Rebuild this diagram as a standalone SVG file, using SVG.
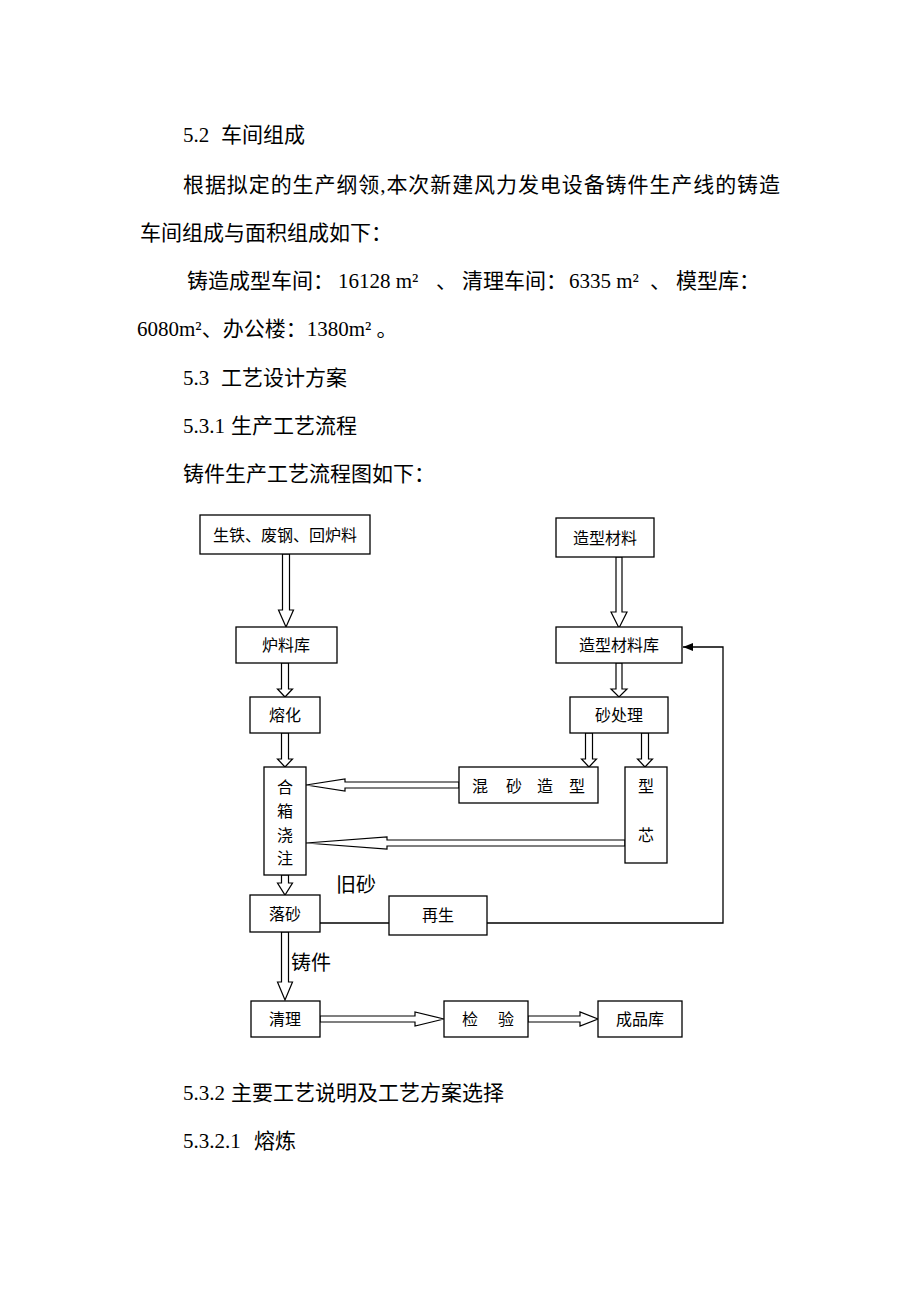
<svg xmlns="http://www.w3.org/2000/svg" width="920" height="1302" viewBox="0 0 920 1302">
<style>
.body{font-family:"Liberation Serif","Noto Sans CJK SC",serif;font-size:21px;fill:#000}
.box{fill:#fff;stroke:#000;stroke-width:1.3}
.lbl{font-family:"Liberation Serif","Noto Sans CJK SC",serif;font-size:16px;fill:#000;text-anchor:middle;dominant-baseline:central}
.side{font-family:"Noto Sans CJK SC",sans-serif;font-size:20px;fill:#000}
.arr{fill:#fff;stroke:#000;stroke-width:1.2;stroke-linejoin:miter}
.ln{fill:none;stroke:#000;stroke-width:1.3}
</style>
<defs>
<marker id="tri" markerWidth="10" markerHeight="8" refX="10" refY="4" orient="auto" markerUnits="userSpaceOnUse">
<path d="M0,0 L10,4 L0,8 Z" fill="#000"/>
</marker>
</defs>
<rect width="920" height="1302" fill="#fff"/>

<g id="text-body">
<text class="body" y="142"><tspan x="183">5.2</tspan><tspan x="221">车间组成</tspan></text>
<text class="body" x="183" y="192" textLength="597" lengthAdjust="spacing">根据拟定的生产纲领,本次新建风力发电设备铸件生产线的铸造</text>
<text class="body" x="140" y="240">车间组成与面积组成如下：</text>
<text class="body" y="288"><tspan x="187">铸造成型车间：</tspan><tspan x="338">16128 m²</tspan><tspan x="436">、</tspan><tspan x="462">清理车间：</tspan><tspan x="569">6335 m²</tspan><tspan x="650">、</tspan><tspan x="676">模型库：</tspan></text>
<text class="body" x="137" y="336">6080m²、办公楼：1380m² 。</text>
<text class="body" y="385"><tspan x="183">5.3</tspan><tspan x="221">工艺设计方案</tspan></text>
<text class="body" y="433"><tspan x="183">5.3.1</tspan><tspan x="231">生产工艺流程</tspan></text>
<text class="body" x="183" y="481">铸件生产工艺流程图如下：</text>
<text class="body" y="1100"><tspan x="183">5.3.2</tspan><tspan x="231">主要工艺说明及工艺方案选择</tspan></text>
<text class="body" y="1148"><tspan x="183">5.3.2.1</tspan><tspan x="254">熔炼</tspan></text>
</g>

<g id="connectors">
<polygon class="arr" points="282.5,554 289.5,554 289.5,610 293.5,610 286,627 278.5,610 282.5,610"/>
<polygon class="arr" points="616,557 622,557 622,612 627,612 619,628 611,612 616,612"/>
<polygon class="arr" points="281.5,663 288.5,663 288.5,689 292.5,689 285,697 277.5,689 281.5,689"/>
<polygon class="arr" points="616,663 622,663 622,689 627,689 619,697 611,689 616,689"/>
<polygon class="arr" points="281.5,733 288.5,733 288.5,759 292.5,759 285,767 277.5,759 281.5,759"/>
<polygon class="arr" points="585.5,733 592.5,733 592.5,759 596.5,759 589,767 581.5,759 585.5,759"/>
<polygon class="arr" points="641.5,733 648.5,733 648.5,759 652.5,759 645,767 637.5,759 641.5,759"/>
<polygon class="arr" points="281.5,875 288.5,875 288.5,883 292.5,883 285,895 277.5,883 281.5,883"/>
<polygon class="arr" points="281.5,932 288.5,932 288.5,982 292.5,982 285,1000 277.5,982 281.5,982"/>
<polygon class="arr" points="459,782 459,788 345,788 345,791 306,785 345,779 345,782"/>
<polygon class="arr" points="625,840 625,846 387,846 387,849 306,843 387,837 387,840"/>
<polygon class="arr" points="320,1016 320,1022 415,1022 415,1026 444,1019 415,1012 415,1016"/>
<polygon class="arr" points="528,1016 528,1022 580,1022 580,1026 598,1019 580,1012 580,1016"/>
<line class="ln" x1="320" y1="923" x2="389" y2="923"/>
<polyline class="ln" points="487,923 723,923 723,647 683,647" marker-end="url(#tri)"/>
<text class="side" x="336" y="892">旧砂</text>
<text class="side" x="291" y="970">铸件</text>
</g>

<g id="n-raw"><rect class="box" x="200" y="515" width="170" height="39"/><text class="lbl" x="285" y="535">生铁、废钢、回炉料</text></g>
<g id="n-mold-mat"><rect class="box" x="556" y="518" width="98" height="39"/><text class="lbl" x="605" y="538">造型材料</text></g>
<g id="n-charge-store"><rect class="box" x="236" y="627" width="101" height="36"/><text class="lbl" x="286" y="645">炉料库</text></g>
<g id="n-mold-store"><rect class="box" x="556" y="627" width="126" height="36"/><text class="lbl" x="619" y="645">造型材料库</text></g>
<g id="n-melt"><rect class="box" x="250" y="697" width="70" height="36"/><text class="lbl" x="285" y="715">熔化</text></g>
<g id="n-sand"><rect class="box" x="570" y="697" width="98" height="36"/><text class="lbl" x="619" y="715">砂处理</text></g>
<g id="n-pour"><rect class="box" x="264" y="767" width="42" height="108"/>
<text class="lbl" x="285" y="787">合</text><text class="lbl" x="285" y="811">箱</text><text class="lbl" x="285" y="835">浇</text><text class="lbl" x="285" y="858">注</text></g>
<g id="n-molding"><rect class="box" x="459" y="767" width="139" height="36"/>
<text class="lbl" x="480" y="786">混</text><text class="lbl" x="514" y="786">砂</text><text class="lbl" x="545" y="786">造</text><text class="lbl" x="577" y="786">型</text></g>
<g id="n-core"><rect class="box" x="625" y="767" width="42" height="96"/>
<text class="lbl" x="646" y="786">型</text><text class="lbl" x="646" y="835">芯</text></g>
<g id="n-shakeout"><rect class="box" x="250" y="895" width="70" height="37"/><text class="lbl" x="285" y="914">落砂</text></g>
<g id="n-regen"><rect class="box" x="389" y="896" width="98" height="39"/><text class="lbl" x="438" y="915">再生</text></g>
<g id="n-clean"><rect class="box" x="251" y="1001" width="69" height="36"/><text class="lbl" x="285" y="1019">清理</text></g>
<g id="n-inspect"><rect class="box" x="444" y="1001" width="84" height="36"/><text class="lbl" x="470" y="1019">检</text><text class="lbl" x="506" y="1019">验</text></g>
<g id="n-product"><rect class="box" x="598" y="1001" width="84" height="36"/><text class="lbl" x="640" y="1019">成品库</text></g>
</svg>
